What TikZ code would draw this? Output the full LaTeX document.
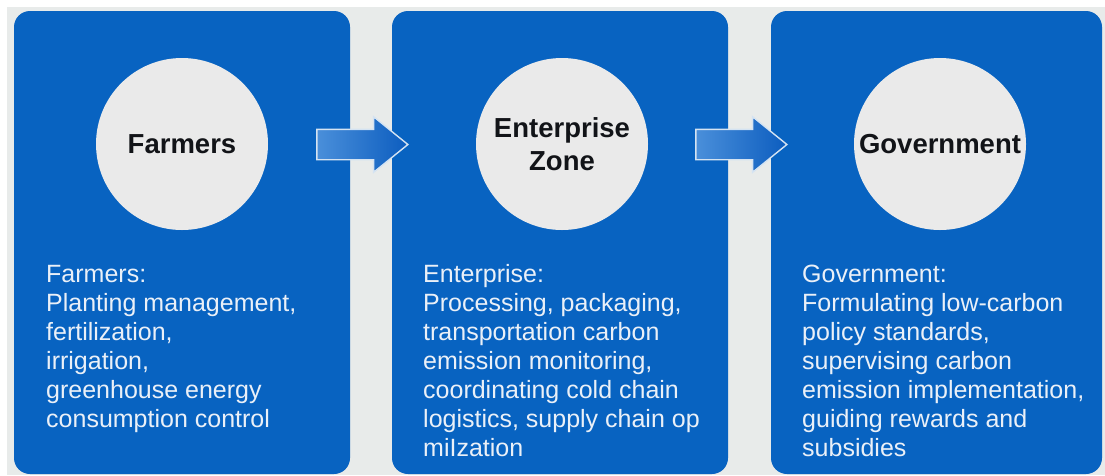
\documentclass[tikz,border=0pt]{standalone}
\usepackage{fontspec}
\setmainfont{Liberation Sans}
\usepackage{tikz}
\usetikzlibrary{shapes.arrows,positioning}
\definecolor{bggray}{HTML}{E8EBEA}
\definecolor{panelblue}{HTML}{0863C1}
\definecolor{discgray}{HTML}{EAEAEA}
\definecolor{titleink}{HTML}{121418}
\definecolor{bodyink}{HTML}{EAF0F8}
\definecolor{arrowlight}{HTML}{4A8FDA}
\definecolor{arrowdark}{HTML}{0C5DBF}
\definecolor{arrowedge}{HTML}{D4E3F2}

\begin{document}
\begin{tikzpicture}[x=1pt,y=-1pt]
\tikzstyle{P}=[fill=panelblue,rounded corners=16pt,minimum height=463pt,inner sep=0pt]
\tikzstyle{C}=[circle,fill=discgray,minimum size=172pt,inner sep=0pt,align=center,font=\fontsize{27.5}{33}\selectfont\bfseries,text=titleink]
\tikzstyle{T}=[anchor=base west,align=left,inner sep=0pt,text=bodyink,font=\fontsize{25}{29}\selectfont]
\tikzstyle{A}=[single arrow,anchor=tip,inner sep=0pt,text height=29pt,text depth=0pt,minimum height=91pt,single arrow head extend=12.5pt,single arrow tip angle=78,left color=arrowlight,right color=arrowdark,draw=arrowedge,line width=1.4pt]
\useasboundingbox (0,0) rectangle (1105,475);
\fill[white] (0,0) rectangle (1105,475); \fill[bggray] (7,7) rectangle (1105,475);
% three stages
\node[P,minimum width=336pt] (p1) at (182,242.5) {};
\node[P,minimum width=336pt] (p2) at (560,242.5) {};
\node[P,minimum width=331pt] (p3) at (936.5,242.5) {};
\node[C] (c1) at (182,144) {Farmers};
\node[C] (c2) at (562,144) {Enterprise\\Zone};
\node[C] (c3) at (940,144) {Government};
% base anchor sits on the last line
\node[T] (t1) at (46,427) {Farmers:\\Planting management,\\fertilization,\\irrigation,\\greenhouse energy\\consumption control};
\node[T] (t2) at (423,456) {Enterprise:\\Processing, packaging,\\transportation carbon\\emission monitoring,\\coordinating cold chain\\logistics, supply chain op\\miIzation};
\node[T] (t3) at (802,456) {Government:\\Formulating low-carbon\\policy standards,\\supervising carbon\\emission implementation,\\guiding rewards and\\subsidies};
% flow between stages
\node[A] (a1) at (409,144.5) {};
\node[A] (a2) at (788,144.5) {};
\end{tikzpicture}
\end{document}
